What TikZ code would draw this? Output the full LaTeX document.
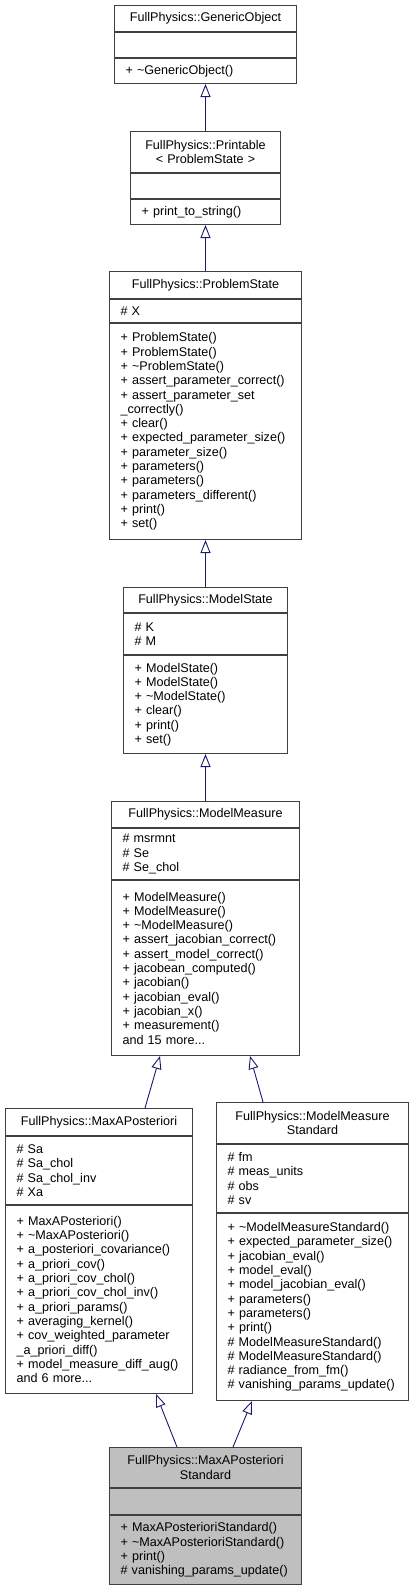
\documentclass[tikz,border=0pt]{standalone}
\usepackage{fontspec}
\setmainfont{Liberation Sans}
\usetikzlibrary{positioning, arrows.meta}
\hyphenpenalty=10000
\exhyphenpenalty=10000
\definecolor{boxline}{HTML}{404040}
\definecolor{edgeblue}{HTML}{191970}
\definecolor{current}{HTML}{BFBFBF}
\tikzset{
  every node/.style={font=\fontsize{12.6}{14.3}\selectfont},
  title/.style={draw=boxline, line width=1pt, fill=white, align=center,
    inner xsep=11pt, inner ysep=0pt, anchor=north west},
  member/.style={draw=boxline, line width=1pt, fill=white, align=left,
    inner xsep=11pt, inner ysep=0pt},
  inherit/.style={draw=edgeblue, line width=0.9pt,
    -{Triangle[length=13pt, width=10pt, fill=white]}},
}

\begin{document}
\begin{tikzpicture}[x=1pt, y=-1pt]
		\useasboundingbox (0,0) rectangle (413,1588);

		% classes
		\node[title, text width=160pt, minimum height=26pt] (go) at (114,5) {FullPhysics::GenericObject};
		\node[member, text width=160pt, minimum height=25pt, below=0pt of go] (go-a) {};
		\node[member, text width=160pt, minimum height=25pt, below=0pt of go-a] (go-m) {+ \textasciitilde GenericObject()};

		\node[title, text width=128pt, minimum height=41pt] (pr) at (130,131) {FullPhysics::Printable\\\textless{} ProblemState \textgreater{}};
		\node[member, text width=128pt, minimum height=25pt, below=0pt of pr] (pr-a) {};
		\node[member, text width=128pt, minimum height=25pt, below=0pt of pr-a] (pr-m) {+ print\_to\_string()};

		\node[title, text width=170pt, minimum height=27pt] (ps) at (109,271) {FullPhysics::ProblemState};
		\node[member, text width=170pt, minimum height=23pt, below=0pt of ps] (ps-a) {\# X};
		\node[member, text width=170pt, minimum height=216pt, below=0pt of ps-a] (ps-m) {+ ProblemState()\\+ ProblemState()\\+ \textasciitilde ProblemState()\\+ assert\_parameter\_correct()\\+ assert\_parameter\_set\\\_correctly()\\+ clear()\\+ expected\_parameter\_size()\\+ parameter\_size()\\+ parameters()\\+ parameters()\\+ parameters\_different()\\+ print()\\+ set()};

		\node[title, text width=142pt, minimum height=25pt] (ms) at (123,587) {FullPhysics::ModelState};
		\node[member, text width=142pt, minimum height=41pt, below=0pt of ms] (ms-a) {\# K\\\# M};
		\node[member, text width=142pt, minimum height=98pt, below=0pt of ms-a] (ms-m) {+ ModelState()\\+ ModelState()\\+ \textasciitilde ModelState()\\+ clear()\\+ print()\\+ set()};

		\node[title, text width=166pt, minimum height=26pt] (mm) at (111,801) {FullPhysics::ModelMeasure};
		\node[member, text width=166pt, minimum height=51pt, below=0pt of mm] (mm-a) {\# msrmnt\\\# Se\\\# Se\_chol};
		\node[member, text width=166pt, minimum height=175pt, below=0pt of mm-a] (mm-m) {+ ModelMeasure()\\+ ModelMeasure()\\+ \textasciitilde ModelMeasure()\\+ assert\_jacobian\_correct()\\+ assert\_model\_correct()\\+ jacobean\_computed()\\+ jacobian()\\+ jacobian\_eval()\\+ jacobian\_x()\\+ measurement()\\and 15 more...};

		\node[title, text width=165pt, minimum height=27pt] (map) at (5,1108) {FullPhysics::MaxAPosteriori};
		\node[member, text width=165pt, minimum height=68pt, below=0pt of map] (map-a) {\# Sa\\\# Sa\_chol\\\# Sa\_chol\_inv\\\# Xa};
		\node[member, text width=165pt, minimum height=188pt, below=0pt of map-a] (map-m) {+ MaxAPosteriori()\\+ \textasciitilde MaxAPosteriori()\\+ a\_posteriori\_covariance()\\+ a\_priori\_cov()\\+ a\_priori\_cov\_chol()\\+ a\_priori\_cov\_chol\_inv()\\+ a\_priori\_params()\\+ averaging\_kernel()\\+ cov\_weighted\_parameter\\\_a\_priori\_diff()\\+ model\_measure\_diff\_aug()\\and 6 more...};

		\node[title, text width=170pt, minimum height=41pt] (mms) at (216,1102) {FullPhysics::ModelMeasure\\Standard};
		\node[member, text width=170pt, minimum height=68pt, below=0pt of mms] (mms-a) {\# fm\\\# meas\_units\\\# obs\\\# sv};
		\node[member, text width=170pt, minimum height=187pt, below=0pt of mms-a] (mms-m) {+ \textasciitilde ModelMeasureStandard()\\+ expected\_parameter\_size()\\+ jacobian\_eval()\\+ model\_eval()\\+ model\_jacobian\_eval()\\+ parameters()\\+ parameters()\\+ print()\\\# ModelMeasureStandard()\\\# ModelMeasureStandard()\\\# radiance\_from\_fm()\\\# vanishing\_params\_update()};

		\node[title, text width=170pt, minimum height=40pt, fill=current] (maps) at (109,1447) {FullPhysics::MaxAPosteriori\\Standard};
		\node[member, text width=170pt, minimum height=26pt, fill=current, below=0pt of maps] (maps-a) {};
		\node[member, text width=170pt, minimum height=69pt, fill=current, below=0pt of maps-a] (maps-m) {+ MaxAPosterioriStandard()\\+ \textasciitilde MaxAPosterioriStandard()\\+ print()\\\# vanishing\_params\_update()};

		% inheritance
		\draw[inherit] (pr.north) -- (go-m.south);
		\draw[inherit] (ps.north) -- (pr-m.south);
		\draw[inherit] (ms.north) -- (ps-m.south);
		\draw[inherit] (mm.north) -- (ms-m.south);
		\draw[inherit] ([xshift=140pt]map.north west) -- ([xshift=49pt]mm-m.south west);
		\draw[inherit] ([xshift=47pt]mms.north west) -- ([xshift=139pt]mm-m.south west);
		\draw[inherit] ([xshift=68pt]maps.north west) -- ([xshift=151pt]map-m.south west);
		\draw[inherit] ([xshift=124pt]maps.north west) -- ([xshift=36pt]mms-m.south west);

	\end{tikzpicture}
\end{document}
